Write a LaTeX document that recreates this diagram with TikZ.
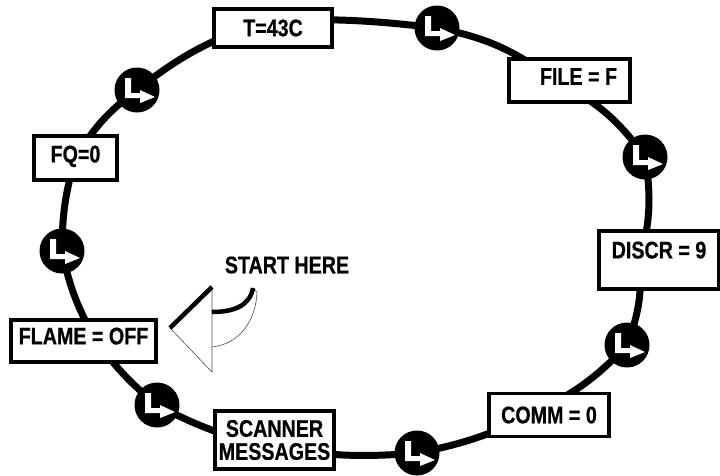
\documentclass[tikz,border=0pt]{standalone}
\usepackage{fontspec}
\setmainfont{Liberation Sans}[FakeStretch=0.82,BoldFeatures={FakeBold=0.6}]
\usetikzlibrary{backgrounds}
\newcommand{\lift}[2]{\raisebox{#1pt}{#2}}
\tikzset{
  x=1pt,y=-1pt,
  ring/.style={line width=7pt,line cap=butt},
  label box/.style={draw=black,line width=3.5pt,fill=white,inner sep=0pt,align=center,
    font=\bfseries\fontsize{24}{24}\selectfont},
  junction/.style={circle,fill=black,minimum size=45pt,inner sep=0pt,
    path picture={\fill[white,shift={(path picture bounding box.center)}]
      (-12,-12)--(-6,-12)--(-6,3)--(3,3)--(3,0)--(18,7)--(3,13)--(3,8)--(-12,8)--cycle;}},
  caption/.style={inner sep=0pt,font=\bfseries\fontsize{24}{24}\selectfont}
}
\begin{document}
\begin{tikzpicture}
\useasboundingbox (0,0) rectangle (720,475);
\node[label box,minimum width=118pt,minimum height=38pt] (T) at (273,28) {T=43C};
\node[label box,minimum width=121pt,minimum height=43pt] (FILE) at (569.5,80.5) {\lift{8}{\hspace*{18pt}FILE = F}};
\node[label box,minimum width=120pt,minimum height=58pt] (DISCR) at (659,260) {\lift{20}{DISCR = 9}};
\node[label box,minimum width=120pt,minimum height=43pt] (COMM) at (549,415) {COMM = 0};
\node[label box,minimum width=119pt,minimum height=58pt] (SCAN) at (274.5,440) {SCANNER\\[-1pt]MESSAGES};
\node[label box,minimum width=145pt,minimum height=42pt] (FLAME) at (83.5,341) {\lift{10}{FLAME = OFF}};
\node[label box,minimum width=83pt,minimum height=44pt] (FQ) at (75.5,158) {\lift{8}{FQ=0}};
\node[junction] (j1) at (437,28) {};
\node[junction] (j2) at (645,157) {};
\node[junction] (j3) at (627,345) {};
\node[junction] (j4) at (417,453) {};
\node[junction] (j5) at (157,405) {};
\node[junction] (j6) at (62,251) {};
\node[junction] (j7) at (137,90) {};
\node[caption] (start) at (287,265) {START HERE};
\begin{pgfonlayer}{background}
\draw[ring] ([shift={(0,-8)}]T.center) to[bend left=4] (j1.center);
\draw[ring] (j1.center) to[bend left=13] ([shift={(-15,0)}]FILE.center);
\draw[ring] ([shift={(-15,0)}]FILE.center) to[bend left=14] (j2.center);
\draw[ring] (j2.center) to[bend left=12] ([shift={(-19,0)}]DISCR.center);
\draw[ring] ([shift={(-19,0)}]DISCR.center) to[bend left=12] (j3.center);
\draw[ring] (j3.center) to[bend left=10] ([shift={(-9,-5)}]COMM.center);
\draw[ring] ([shift={(-9,-5)}]COMM.center) to[bend left=8] (j4.center);
\draw[ring] (j4.center) to[bend left=7] ([shift={(0,7)}]SCAN.center);
\draw[ring] ([shift={(0,7)}]SCAN.center) to[bend left=8] (j5.center);
\draw[ring] (j5.center) to[bend left=7] ([shift={(13,0)}]FLAME.center);
\draw[ring] ([shift={(13,0)}]FLAME.center) to[bend left=9] (j6.center);
\draw[ring] (j6.center) to[bend left=8] (FQ.center);
\draw[ring] (FQ.center) to[bend left=11] (j7.center);
\draw[ring] (j7.center) to[bend left=11] ([shift={(0,-8)}]T.center);
\end{pgfonlayer}
% start arrow
\coordinate (tip) at (170,328);
\coordinate (headtop) at (212,287);
\coordinate (headbot) at (212,372);
\coordinate (stemtop) at (212,312);
\coordinate (stembot) at (212,347);
\coordinate (tailA) at (253,288);
\coordinate (tailB) at (257,292);
\draw[line width=0.6pt,black!70] (tip)--(headbot)--(headtop);
\draw[line width=0.6pt,black!70] (stembot) .. controls (240,344) and (256,320) .. (tailB) -- (tailA);
\draw[line width=4.5pt] (tip)--(headtop);
\draw[line width=4.5pt] (stemtop) .. controls (235,312) and (250,305) .. (tailA);
\end{tikzpicture}
\end{document}
